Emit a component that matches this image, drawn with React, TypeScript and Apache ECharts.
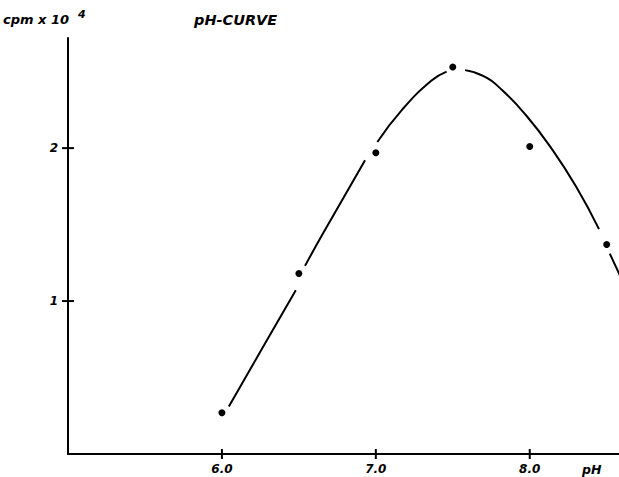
import React, { useEffect, useRef } from "react";
import * as echarts from "echarts";

const measuredPH = [6.0, 6.5, 7.0, 7.5, 8.0, 8.5];
const measuredCpm = [0.27, 1.18, 1.97, 2.53, 2.01, 1.37];

// fitted curve, drawn in pieces (gaps around the dots)
const curveSeg1: [number, number][] = [[6.045, 0.31], [6.25, 0.67], [6.48, 1.07]];
const curveSeg2: [number, number][] = [[6.54, 1.23], [6.65, 1.43], [6.93, 1.92]];
const curveSeg3: [number, number][] = [[7.01, 2.04], [7.17, 2.25], [7.36, 2.44], [7.46, 2.5]];
const curveSeg4: [number, number][] = [
  [7.58, 2.51], [7.7, 2.47], [7.82, 2.38], [7.98, 2.21], [8.14, 2.0], [8.3, 1.75], [8.45, 1.47],
];
const curveSeg5: [number, number][] = [[8.52, 1.31], [8.59, 1.16]];

const xTicks = [6, 7, 8];
const yTicks = [1, 2];
const X_MIN = 5;
const Y_MIN = 0;

const FONT = "DejaVu Sans";

export default function App() {
  const ref = useRef<HTMLDivElement>(null);
  useEffect(() => {
    document.body.style.margin = "0";
    const chart = echarts.init(ref.current!, null, { renderer: "svg" });
    const curveSeries = [curveSeg1, curveSeg2, curveSeg3, curveSeg4, curveSeg5].map((seg) => ({
      type: "line",
      data: seg,
      smooth: 0.5,
      showSymbol: false,
      symbol: "none",
      lineStyle: { color: "#000", width: 2 },
      silent: true,
    }));
    const axisLine = { show: true, lineStyle: { color: "#000", width: 2 } };
    const labelStyle = {
      color: "#000",
      fontFamily: FONT,
      fontStyle: "italic",
      fontWeight: "bold",
      fontSize: 12,
    };
    chart.setOption({
      animation: false,
      backgroundColor: "#fff",
      grid: { left: 68, right: 0, top: 38, bottom: 23, containLabel: false },
      xAxis: {
        type: "value",
        min: X_MIN,
        max: 8.58,
        interval: 1,
        axisLine,
        splitLine: { show: false },
        axisTick: { show: false },
        axisLabel: { ...labelStyle, customValues: xTicks, margin: 9, formatter: (v: number) => v.toFixed(1) },
      },
      yAxis: {
        type: "value",
        min: Y_MIN,
        max: 2.72,
        interval: 1,
        axisLine,
        splitLine: { show: false },
        axisTick: { show: false },
        axisLabel: { ...labelStyle, customValues: yTicks, margin: 10 },
      },
      series: [
        ...curveSeries,
        {
          type: "scatter",
          data: measuredPH.map((x, i) => [x, measuredCpm[i]]),
          symbol: "circle",
          symbolSize: 7,
          itemStyle: { color: "#000", opacity: 1 },
          z: 5,
        },
      ],
    });

    // crossing tick marks, placed through the chart's own scales
    const tickLines: any[] = [];
    xTicks.forEach((v) => {
      const p = chart.convertToPixel({ gridIndex: 0 }, [v, Y_MIN]) as number[];
      tickLines.push({
        type: "line",
        z: 100,
        shape: { x1: p[0], y1: p[1] - 5, x2: p[0], y2: p[1] + 5 },
        style: { stroke: "#000", lineWidth: 2 },
      });
    });
    yTicks.forEach((v) => {
      const p = chart.convertToPixel({ gridIndex: 0 }, [X_MIN, v]) as number[];
      tickLines.push({
        type: "line",
        z: 100,
        shape: { x1: p[0] - 6, y1: p[1], x2: p[0] + 6, y2: p[1] },
        style: { stroke: "#000", lineWidth: 2 },
      });
    });

    chart.setOption({
      graphic: [
        {
          type: "text",
          left: 3,
          top: 13,
          style: { text: "cpm x 10", fill: "#000", font: `italic bold 13px "${FONT}"` },
        },
        {
          type: "text",
          left: 78,
          top: 9,
          style: { text: "4", fill: "#000", font: `italic bold 11px "${FONT}"` },
        },
        {
          type: "text",
          left: 194,
          top: 12,
          style: { text: "pH-CURVE", fill: "#000", font: `italic bold 14.5px "${FONT}"` },
        },
        {
          type: "text",
          left: 582,
          top: 463,
          style: { text: "pH", fill: "#000", font: `italic bold 12.5px "${FONT}"` },
        },
        ...tickLines,
      ],
    });
    return () => chart.dispose();
  }, []);
  return <div ref={ref} style={{ width: 619, height: 477 }} />;
}
